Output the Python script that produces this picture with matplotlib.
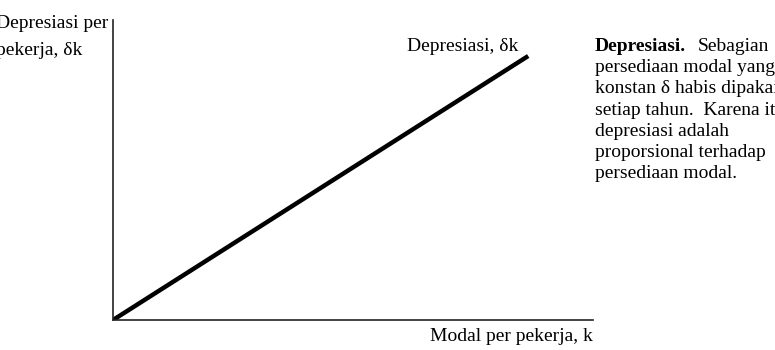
import numpy as np
import matplotlib.pyplot as plt

plt.rcParams['font.family'] = ['Liberation Serif', 'DejaVu Serif']

# data: depreciation is proportional to capital per worker
k = [0.0, 8.65]
depr = [0.0, 8.8]

note_lines = [
    "persediaan modal yang",
    "konstan δ habis dipakai",
    "setiap tahun.  Karena itu",
    "depresiasi adalah",
    "proporsional terhadap",
    "persediaan modal.",
]

W, H = 775, 350
fig = plt.figure(figsize=(W / 100, H / 100), dpi=100)
ax = fig.add_axes([113 / W, 30 / H, 480 / W, 300 / H])
ax.plot(k, depr, color='black', lw=3.2, solid_capstyle='butt')
ax.set_xlim(0, 10)
ax.set_ylim(0, 10)
ax.set_xticks([])
ax.set_yticks([])
for s in ['top', 'right']:
    ax.spines[s].set_visible(False)
for s in ['left', 'bottom']:
    ax.spines[s].set_linewidth(1.2)
    ax.spines[s].set_color('#222222')

fs = 14
def px(x, y):
    return x / W, 1 - y / H

fig.text(*px(-4, 28), "Depresiasi per", fontsize=fs, ha='left', va='baseline')
fig.text(*px(-4, 55), "pekerja, δk", fontsize=fs, ha='left', va='baseline')
fig.text(*px(593, 341), "Modal per pekerja, k", fontsize=fs, ha='right', va='baseline')
fig.text(*px(518, 51), "Depresiasi, δk", fontsize=fs, ha='right', va='baseline')

fig.text(*px(595, 51), "Depresiasi.", fontsize=fs, fontweight='bold', ha='left', va='baseline')
fig.text(*px(698, 51), "Sebagian", fontsize=fs, ha='left', va='baseline')
for i, line in enumerate(note_lines):
    fig.text(*px(595, 51 + 21.2 * (i + 1)), line, fontsize=fs, ha='left', va='baseline')

fig.savefig('out.png', dpi=100)
